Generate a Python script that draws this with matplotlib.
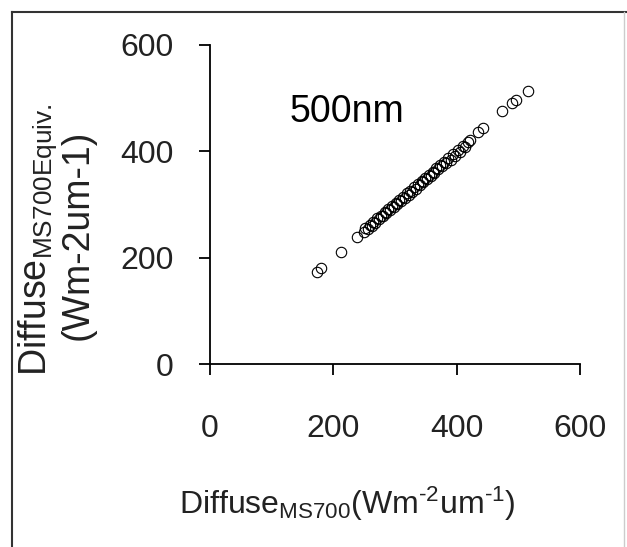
import matplotlib
matplotlib.use("Agg")
import matplotlib.pyplot as plt
from matplotlib.lines import Line2D

# Diffuse irradiance at 500 nm: MS700 vs MS700-equivalent
ms700 = [173, 180, 212, 238, 249, 252, 256, 259, 262, 265, 268, 271, 274,
         277, 280, 283, 286, 289, 292, 295, 298, 301, 304, 307, 310, 313,
         316, 319, 322, 325, 328, 331, 334, 337, 340, 343, 346, 349, 352,
         355, 358, 361, 364, 367, 370, 373, 376, 379, 382, 386, 390, 394,
         398, 402, 406, 410, 414, 418, 422, 435, 443, 473, 490, 496, 515]
ms700_equiv = [173, 180, 211, 239, 249, 255, 254, 262, 260, 268, 266, 274,
               272, 279, 278, 285, 284, 291, 289, 297, 295, 303, 301, 309,
               307, 315, 312, 321, 318, 326, 324, 332, 330, 338, 336, 344,
               342, 350, 348, 356, 354, 362, 360, 368, 366, 374, 372, 380,
               378, 387, 384, 395, 392, 402, 399, 410, 408, 417, 421, 437,
               443, 476, 490, 496, 514]

ticks = [0, 200, 400, 600]
panel_label = "500nm"

plt.rcParams['font.family'] = ['Liberation Sans', 'DejaVu Sans']
plt.rcParams['mathtext.fontset'] = 'custom'
plt.rcParams['mathtext.rm'] = 'Liberation Sans'
plt.rcParams['mathtext.it'] = 'Liberation Sans'

HYPHEN = '\u2010'

fig = plt.figure(figsize=(6.27, 5.47), dpi=100)
ax = fig.add_axes([210 / 627, 183 / 547, 370 / 627, 319 / 547])

ax.plot(ms700, ms700_equiv, linestyle='none', marker='o', markersize=7.5,
        markerfacecolor='none', markeredgecolor='black', markeredgewidth=0.8)

ax.set_xlim(0, 600)
ax.set_ylim(0, 600)
ax.set_xticks(ticks)
ax.set_yticks(ticks)
for side in ('top', 'right'):
    ax.spines[side].set_visible(False)
for side in ('left', 'bottom'):
    ax.spines[side].set_linewidth(1.3)
ax.tick_params(axis='both', direction='out', length=8, width=1.3,
               labelsize=23, labelcolor='#222222')
ax.tick_params(axis='x', pad=28)
ax.tick_params(axis='y', pad=18)

ax.text(222, 474, panel_label, ha='center', va='center', fontsize=27)

# axis titles placed in figure coordinates
fig.text(347 / 627, 1 - 504 / 547,
         r'$\mathregular{Diffuse_{MS700}(Wm^{' + HYPHEN + '2}um^{'
         + HYPHEN + '1})}$',
         ha='center', va='center', fontsize=23, color='#222222')
fig.text(38 / 627, 1 - 240 / 547,
         r'$\mathregular{Diffuse_{MS700Equiv.}}$',
         ha='center', va='center', rotation=90, fontsize=27,
         color='#222222')
fig.text(78 / 627, 1 - 235 / 547, '(Wm-2um-1)',
         ha='center', va='center', rotation=90, fontsize=27,
         color='#222222')

# frame around the figure
fig.add_artist(Line2D([12 / 627, 12 / 627], [0, 1 - 12 / 547],
                      color='#333333', linewidth=1.5))
fig.add_artist(Line2D([12 / 627, 1], [1 - 12 / 547, 1 - 12 / 547],
                      color='#333333', linewidth=1.5))
fig.add_artist(Line2D([624 / 627, 624 / 627], [0, 1 - 12 / 547],
                      color='#cccccc', linewidth=1))

fig.savefig('out.png', dpi=100)
